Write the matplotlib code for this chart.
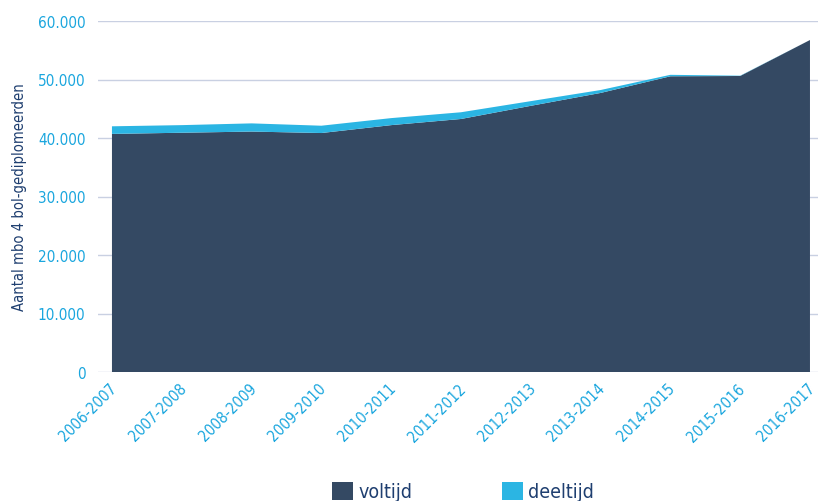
import matplotlib
matplotlib.use('Agg')
import matplotlib.pyplot as plt
import matplotlib.transforms as mtransforms
import numpy as np
from matplotlib.ticker import FuncFormatter

plt.rcParams['font.family'] = ['DejaVu Sans']
plt.rcParams['font.stretch'] = 'condensed'

jaren = ['2006-2007', '2007-2008', '2008-2009', '2009-2010', '2010-2011', '2011-2012',
         '2012-2013', '2013-2014', '2014-2015', '2015-2016', '2016-2017']
voltijd = [40700, 40900, 41100, 40850, 42200, 43250, 45500, 47700, 50550, 50600, 56750]
deeltijd = [1300, 1300, 1400, 1250, 1200, 1150, 800, 500, 250, 50, 0]

kleur_vol = '#344963'
kleur_deel = '#2bb5e3'
kleur_tekst = '#1aa6de'

fig = plt.figure(figsize=(8.18, 5.02), dpi=100)
ax = fig.add_axes([98 / 818, 129 / 502, 720 / 818, 351 / 502])

x = np.arange(len(jaren))
ax.stackplot(x, voltijd, deeltijd, colors=[kleur_vol, kleur_deel], labels=['voltijd', 'deeltijd'],
             zorder=2, linewidth=0)

ax.set_xlim(-0.2, 10.115)
ax.set_ylim(0, 60000)
ax.set_yticks(range(0, 60001, 10000))
ax.yaxis.set_major_formatter(FuncFormatter(lambda v, p: f'{int(v):,}'.replace(',', '.')))
ax.grid(axis='y', color='#c9d0e2', linewidth=1, zorder=0)
ax.set_axisbelow(True)
for s in ax.spines.values():
    s.set_visible(False)

ax.set_xticks(x)
ax.set_xticklabels(jaren, rotation=45, ha='right', rotation_mode='anchor')
ax.tick_params(axis='both', length=0, labelsize=11, labelcolor=kleur_tekst)
ax.tick_params(axis='y', pad=9)
ax.tick_params(axis='x', pad=6)
verschuif = mtransforms.ScaledTranslation(-3 / 100, 0, fig.dpi_scale_trans)
for lbl in ax.get_xticklabels():
    lbl.set_transform(lbl.get_transform() + verschuif)

ax.set_ylabel('Aantal mbo 4 bol-gediplomeerden', color='#1f3f70', fontsize=10.6, labelpad=8)

fig.legend(loc='upper center', bbox_to_anchor=(463 / 818, 37 / 502), ncol=2, frameon=False,
           fontsize=14, labelcolor='#1f3f70', handlelength=1.1, handleheight=1.1,
           columnspacing=4.6, handletextpad=0.25)

plt.savefig('out.png', dpi=100)
